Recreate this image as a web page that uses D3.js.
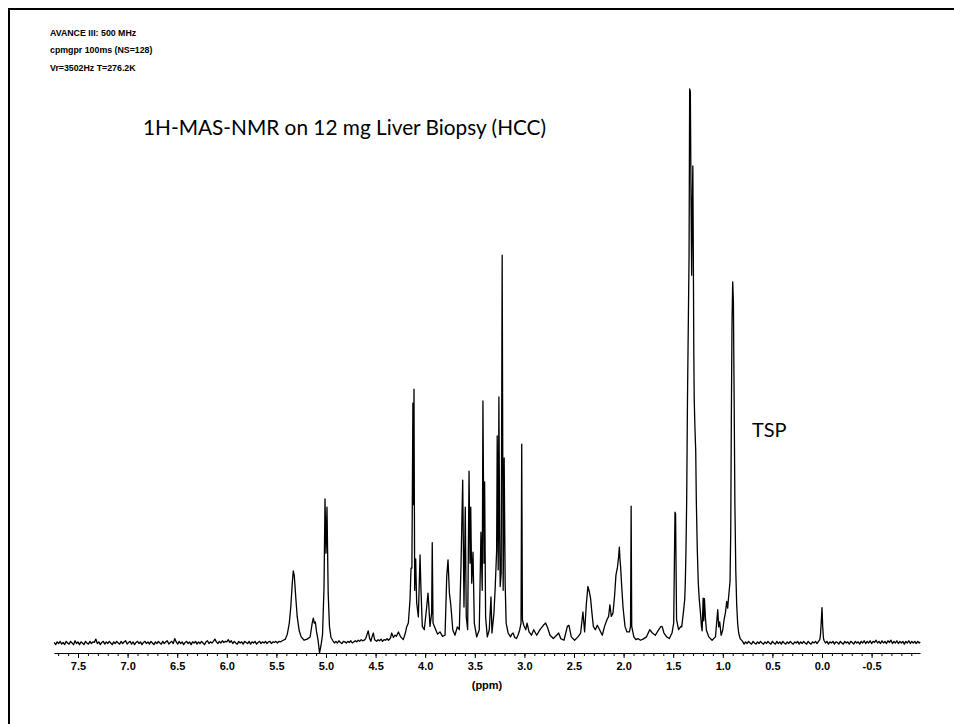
<!DOCTYPE html>
<html>
<head>
<meta charset="utf-8">
<script src="https://cdn.jsdelivr.net/npm/d3@7"></script>
<style>
  html, body { margin: 0; padding: 0; background: #fff; }
  svg { display: block; }
</style>
</head>
<body>
<svg id="chart" width="954" height="724"></svg>
<script>
// Acquisition parameters printed in the top-left corner
const acquisitionInfo = ["AVANCE III: 500 MHz", "cpmgpr 100ms (NS=128)", "Vr=3502Hz T=276.2K"];
const title = "1H-MAS-NMR on 12 mg Liver Biopsy (HCC)";
const referenceLabel = "TSP";
const axisLabel = "(ppm)";
const majorTicks = [7.5, 7.0, 6.5, 6.0, 5.5, 5.0, 4.5, 4.0, 3.5, 3.0, 2.5, 2.0, 1.5, 1.0, 0.5, 0.0, -0.5];
const ppmRange = [7.742, -0.988];

// 1H CPMG spectrum: [chemical shift (ppm), intensity (% of the 1.33 ppm lipid CH2 maximum)]
const spectrum = [
  // aromatic / amide region (noise only)
  [7.740,0.1],[7.725,-0.3],[7.710,0.2],[7.695,-0.1],[7.680,0.3],[7.665,-0.2],[7.650,0.1],[7.635,-0.3],
  [7.620,0.3],[7.605,0.0],[7.590,-0.2],[7.575,0.3],[7.560,0.0],[7.545,-0.3],[7.530,0.4],[7.515,-0.1],
  [7.500,0.2],[7.485,-0.3],[7.470,0.2],[7.455,0.0],[7.440,-0.3],[7.425,0.3],[7.410,0.0],[7.395,-0.2],
  [7.380,0.3],[7.365,-0.1],[7.350,0.2],[7.335,0.1],[7.320,0.7],[7.305,-0.1],[7.290,0.2],[7.275,-0.3],
  [7.260,0.1],[7.245,0.3],[7.230,-0.2],[7.215,0.2],[7.200,-0.1],[7.185,0.3],[7.170,0.0],[7.155,-0.3],
  [7.140,0.2],[7.125,-0.1],[7.110,0.3],[7.095,0.0],[7.080,-0.2],[7.065,0.3],[7.050,-0.1],[7.035,0.2],
  [7.020,0.4],[7.005,-0.2],[6.990,0.1],[6.975,0.3],[6.960,-0.2],[6.945,0.2],[6.930,-0.3],[6.915,0.1],
  [6.900,0.3],[6.885,-0.1],[6.870,0.2],[6.855,-0.3],[6.840,0.1],[6.825,0.3],[6.810,-0.1],[6.795,0.2],
  [6.780,-0.2],[6.765,0.3],[6.750,0.0],[6.735,-0.3],[6.720,0.2],[6.705,-0.1],[6.690,0.3],[6.675,0.0],
  [6.660,-0.2],[6.645,0.3],[6.630,-0.1],[6.615,0.2],[6.600,0.4],[6.585,-0.2],[6.570,0.1],[6.555,0.3],
  [6.540,-0.1],[6.525,0.8],[6.510,0.2],[6.495,-0.2],[6.480,0.3],[6.465,-0.1],[6.450,0.2],[6.435,-0.3],
  [6.420,0.1],[6.405,0.3],[6.390,-0.1],[6.375,0.2],[6.360,-0.3],[6.345,0.2],[6.330,0.0],[6.315,0.3],
  [6.300,-0.2],[6.285,0.2],[6.270,-0.1],[6.255,0.3],[6.240,0.0],[6.225,-0.3],[6.210,0.2],[6.195,0.4],
  [6.180,-0.1],[6.165,0.2],[6.150,0.0],[6.135,0.3],[6.120,0.7],[6.105,0.2],[6.090,-0.1],[6.075,0.3],
  [6.060,0.0],[6.045,0.4],[6.030,0.1],[6.015,0.3],[6.000,0.2],[5.985,0.6],[5.970,0.1],[5.955,0.4],
  [5.940,-0.1],[5.925,0.3],[5.910,0.0],[5.895,-0.2],[5.880,0.3],[5.865,0.0],[5.850,0.2],[5.835,-0.2],
  [5.820,0.3],[5.805,0.1],[5.790,-0.1],[5.775,0.3],[5.760,-0.2],[5.745,0.2],[5.730,0.0],[5.715,0.3],
  [5.700,-0.2],[5.685,0.1],[5.670,0.3],[5.655,-0.1],[5.640,0.2],[5.625,0.0],[5.610,0.3],[5.595,-0.1],
  [5.580,0.2],[5.565,0.3],[5.550,-0.1],[5.535,0.2],[5.520,0.1],[5.505,0.3],[5.490,0.0],[5.475,0.3],
  [5.460,0.2],
  // olefinic lipid =CH- and anomeric region
  [5.44,0.4],[5.41,0.7],[5.39,1.6],[5.37,3.6],[5.355,6.5],[5.34,10.8],[5.33,13.0],[5.32,12.2],[5.305,8.3],
  [5.29,4.7],[5.27,2.2],[5.25,1.1],[5.22,0.5],[5.19,0.7],[5.16,1.1],[5.14,3.5],[5.128,4.5],[5.118,3.6],
  [5.108,3.8],[5.095,2.0],[5.08,0.5],[5.065,-1.8],[5.05,-0.4],[5.035,1.5],[5.02,10.0],[5.010,26.0],
  [5.000,16.2],[4.990,24.5],[4.978,9.0],[4.965,3.0],[4.95,1.0],[4.93,0.4],
  [4.915,0.0],[4.90,0.3],[4.885,0.0],[4.87,0.4],[4.855,0.1],[4.84,-0.1],[4.825,0.3],[4.81,0.2],
  [4.795,0.0],[4.78,0.3],[4.765,0.1],[4.75,0.4],[4.735,0.0],[4.72,0.2],[4.705,0.4],[4.69,0.2],
  [4.675,0.5],[4.66,0.3],[4.645,0.6],[4.63,0.4],[4.615,0.5],
  [4.60,0.8],[4.585,1.6],[4.574,2.2],[4.56,0.8],[4.548,0.3],[4.535,1.2],[4.523,1.8],[4.51,0.6],
  [4.49,0.3],[4.475,0.6],[4.46,0.4],[4.445,0.7],[4.43,0.3],[4.415,0.6],[4.40,0.5],[4.385,0.8],[4.37,0.5],
  [4.35,0.9],[4.338,1.8],[4.32,1.0],[4.304,1.4],
  [4.29,1.2],[4.27,2.0],[4.247,1.1],[4.221,0.6],[4.20,1.8],[4.187,2.9],[4.17,3.6],[4.153,7.8],[4.143,13.5],
  [4.134,13.5],[4.124,43.3],[4.119,25.0],[4.113,45.8],[4.106,9.5],[4.096,15.2],[4.086,7.3],[4.069,4.7],
  [4.052,15.9],[4.042,9.3],[4.029,3.0],[4.009,2.4],[3.985,6.5],[3.972,9.0],[3.962,6.3],[3.952,3.0],
  [3.935,5.4],[3.929,18.1],[3.921,3.6],[3.901,2.7],[3.875,1.6],[3.851,2.0],[3.825,1.2],[3.80,1.4],
  [3.783,12.0],[3.770,15.0],
  [3.756,9.0],[3.742,6.9],[3.722,2.4],[3.700,1.4],[3.676,2.9],[3.656,2.4],[3.639,14.1],[3.622,29.4],
  [3.609,6.5],[3.596,24.5],[3.586,4.7],[3.572,2.4],[3.558,31.0],[3.548,14.4],[3.541,24.5],[3.531,10.8],
  [3.518,16.4],[3.505,3.6],[3.481,1.1],[3.455,2.4],[3.438,20.0],[3.425,9.5],[3.418,43.7],[3.407,14.4],
  [3.401,29.1],[3.391,4.7],[3.374,1.1],[3.354,2.4],[3.337,8.3],[3.327,1.8],[3.307,5.4],[3.294,10.1],
  [3.280,16.6],[3.274,37.4],[3.264,13.2],[3.257,44.4],[3.250,20.4],[3.244,10.2],[3.234,12.6],[3.224,70.0],
  [3.214,9.5],[3.204,33.4],[3.194,10.8],[3.184,3.6],[3.164,1.8],[3.140,1.1],[3.127,1.6],[3.114,1.8],
  [3.097,1.0],[3.080,0.8],[3.063,1.5],
  [3.047,2.4],[3.034,3.6],[3.027,35.9],[3.020,4.2],[3.007,3.2],[2.986,2.4],[2.973,3.6],[2.953,2.0],
  [2.929,1.4],[2.906,2.4],[2.876,1.4],[2.843,2.4],[2.809,3.2],[2.786,3.6],[2.765,2.7],[2.742,1.4],
  [2.708,0.8],[2.675,1.4],[2.655,1.8],[2.634,0.8],[2.601,0.5],[2.567,3.0],[2.551,3.2],[2.527,1.1],
  [2.494,0.5],[2.460,1.1],[2.433,1.8],[2.410,5.6],[2.393,2.0],[2.376,6.9],[2.360,10.2],[2.346,9.3],
  [2.333,8.1],[2.319,5.4],[2.305,3.0],[2.285,2.4],[2.265,3.2],[2.242,2.4],[2.215,1.4],[2.192,3.0],
  [2.168,4.2],[2.151,4.8],[2.138,6.9],[2.124,4.8],[2.107,5.4],[2.090,8.7],[2.077,12.3],[2.063,13.5],
  [2.050,15.6],[2.043,17.3],[2.036,15.0],[2.030,13.7],[2.020,10.5],[2.006,6.5],[1.986,3.0],[1.966,2.0],
  [1.941,2.0],[1.930,3.0],[1.924,24.7],[1.918,3.0],[1.897,1.1],[1.876,0.6],[1.855,0.8],[1.830,0.5],
  [1.804,0.7],[1.770,1.1],
  [1.737,2.4],[1.710,1.8],[1.680,1.4],[1.646,2.4],[1.623,3.0],[1.610,2.9],[1.593,1.8],[1.566,1.1],
  [1.539,0.8],[1.512,1.8],[1.495,3.6],[1.482,23.6],[1.476,23.3],[1.466,4.2],[1.446,2.4],[1.422,3.0],
  // lipid (CH2)n multiplet
  [1.414,2.9],[1.398,5.4],[1.384,7.8],[1.378,10.8],[1.371,16.8],[1.364,25.8],[1.360,34.8],[1.356,43.9],
  [1.340,70.0],[1.334,100.0],[1.327,99.5],[1.320,80.0],[1.314,66.4],[1.307,80.0],[1.302,86.1],[1.297,70.0],
  [1.292,52.0],[1.288,44.0],[1.281,39.0],[1.273,34.8],[1.267,25.8],[1.257,16.8],[1.247,10.8],[1.237,7.8],
  [1.225,5.4],[1.215,3.0],[1.208,2.2],[1.198,8.1],[1.192,4.0],[1.185,8.0],[1.175,4.5],[1.165,2.3],
  [1.141,1.1],[1.108,0.5],[1.074,1.1],[1.064,3.2],[1.051,6.0],[1.041,2.9],[1.031,3.8],[1.017,1.4],
  [1.001,2.3],[0.987,4.2],[0.974,5.4],[0.961,7.5],[0.951,6.3],[0.941,8.4],[0.927,11.1],
  // lipid CH3
  [0.920,20.0],[0.914,40.0],[0.907,58.0],[0.900,65.2],[0.893,61.5],[0.886,45.0],[0.878,25.0],[0.869,13.0],
  [0.860,7.0],[0.850,3.5],[0.840,1.8],[0.825,0.8],
  [0.800,0.3],[0.785,-0.2],[0.770,0.2],[0.755,-0.1],[0.740,0.3],[0.725,0.0],[0.710,-0.2],[0.695,0.3],
  [0.680,0.0],[0.665,-0.2],[0.650,0.2],[0.635,-0.1],[0.620,0.3],[0.605,0.0],[0.590,-0.2],[0.575,0.2],
  [0.560,-0.1],[0.545,0.3],[0.530,0.0],[0.515,-0.2],[0.500,0.3],[0.485,0.0],[0.470,-0.2],[0.455,0.3],
  [0.440,-0.1],[0.425,0.2],[0.410,-0.2],[0.395,0.3],[0.380,0.0],[0.365,-0.2],[0.350,0.2],[0.335,-0.1],
  [0.320,0.3],[0.305,0.0],[0.290,-0.2],[0.275,0.2],[0.260,0.0],[0.245,0.3],[0.230,-0.2],[0.215,0.2],
  [0.200,-0.1],[0.185,0.3],[0.170,0.0],[0.155,-0.2],[0.140,0.3],[0.125,0.0],[0.110,-0.2],[0.095,0.2],
  [0.080,0.0],[0.065,0.3],[0.050,-0.1],[0.035,0.3],[0.022,0.6],
  // TSP reference
  [0.015,1.5],[0.007,4.0],[0.000,6.4],[-0.007,3.0],[-0.015,0.8],
  [-0.022,0.4],[-0.035,0.0],[-0.050,0.3],[-0.065,-0.2],[-0.080,0.2],[-0.095,0.0],[-0.110,0.3],[-0.125,-0.2],
  [-0.140,0.2],[-0.155,0.1],[-0.170,-0.2],[-0.185,0.3],[-0.200,0.0],[-0.215,-0.2],[-0.230,0.3],[-0.245,0.0],
  [-0.260,0.2],[-0.275,-0.2],[-0.290,0.3],[-0.305,0.1],[-0.320,-0.2],[-0.335,0.3],[-0.350,0.0],[-0.365,0.2],
  [-0.380,-0.2],[-0.395,0.3],[-0.410,0.0],[-0.425,0.4],[-0.440,-0.1],[-0.455,0.3],[-0.470,0.0],[-0.485,0.4],
  [-0.500,-0.1],[-0.515,0.3],[-0.530,0.1],[-0.545,0.5],[-0.560,0.0],[-0.575,0.3],[-0.590,-0.1],[-0.605,0.4],
  [-0.620,0.0],[-0.635,0.3],[-0.650,-0.1],[-0.665,0.4],[-0.680,0.1],[-0.695,0.5],[-0.710,-0.1],[-0.725,0.3],
  [-0.740,0.0],[-0.755,0.4],[-0.770,-0.1],[-0.785,0.3],[-0.800,0.0],[-0.815,0.3],[-0.830,-0.2],[-0.845,0.3],
  [-0.860,0.0],[-0.875,0.4],[-0.890,-0.1],[-0.905,0.3],[-0.920,0.0],[-0.935,0.3],[-0.950,-0.1],[-0.965,0.3],
  [-0.980,0.0],[-0.990,0.2]
];

const svg = d3.select("#chart");

const x = d3.scaleLinear().domain(ppmRange).range([54, 920]);
const y = d3.scaleLinear().domain([0, 100]).range([643, 89]);
const axisY = 653;

// page frame
svg.append("rect")
  .attr("x", 9).attr("y", 9)
  .attr("width", 1200).attr("height", 1200)
  .attr("fill", "none").attr("stroke", "#000").attr("stroke-width", 2);

// acquisition parameters
svg.append("g")
  .selectAll("text")
  .data(acquisitionInfo)
  .join("text")
  .attr("x", 50)
  .attr("y", (d, i) => 36 + i * 17.3)
  .attr("font-family", "'Liberation Sans', Arial, sans-serif")
  .attr("font-weight", "bold")
  .attr("font-size", 8.8)
  .attr("fill", "#000")
  .text(d => d);

// title
svg.append("text")
  .attr("x", 143).attr("y", 135)
  .attr("font-family", "Lato, 'Open Sans', sans-serif")
  .attr("font-size", 20.8)
  .attr("fill", "#000")
  .text(title);

// minor ticks every 0.1 ppm
const minorTicks = d3.range(-9, 78).map(k => k / 10);
svg.append("g")
  .attr("transform", `translate(0,${axisY})`)
  .call(d3.axisBottom(x).tickValues(minorTicks).tickSize(3).tickFormat(""))
  .call(g => g.select(".domain").remove())
  .call(g => g.selectAll("line").attr("stroke", "#000"));

// major ticks with labels
svg.append("g")
  .attr("transform", `translate(0,${axisY})`)
  .call(d3.axisBottom(x).tickValues(majorTicks).tickSize(5).tickSizeOuter(0).tickPadding(4)
    .tickFormat(d => d.toFixed(1)))
  .call(g => g.select(".domain").attr("stroke", "#000"))
  .call(g => g.selectAll("line").attr("stroke", "#000"))
  .call(g => g.selectAll("text")
    .attr("fill", "#000")
    .attr("font-family", "'Liberation Sans', Arial, sans-serif")
    .attr("font-weight", "bold")
    .attr("font-size", 11));

svg.append("text")
  .attr("x", 487).attr("y", 689)
  .attr("text-anchor", "middle")
  .attr("font-family", "'Liberation Sans', Arial, sans-serif")
  .attr("font-weight", "bold")
  .attr("font-size", 11)
  .attr("fill", "#000")
  .text(axisLabel);

// spectrum trace
const line = d3.line()
  .x(d => x(d[0]))
  .y(d => y(d[1]));

svg.append("path")
  .datum(spectrum)
  .attr("d", line)
  .attr("fill", "none")
  .attr("stroke", "#000")
  .attr("stroke-width", 1.3)
  .attr("stroke-linejoin", "round");

// reference compound label
svg.append("text")
  .attr("x", 752).attr("y", 437)
  .attr("font-family", "Lato, 'Open Sans', sans-serif")
  .attr("font-size", 20)
  .attr("fill", "#000")
  .text(referenceLabel);
</script>
</body>
</html>
